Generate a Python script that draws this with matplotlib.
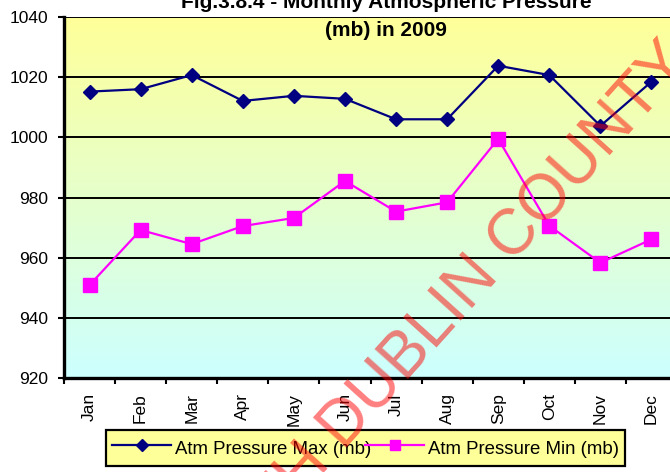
import matplotlib
matplotlib.use("Agg")
import matplotlib.pyplot as plt
import numpy as np
from matplotlib.colors import LinearSegmentedColormap

plt.rcParams['font.family'] = ['Liberation Sans', 'DejaVu Sans']

months = ['Jan', 'Feb', 'Mar', 'Apr', 'May', 'Jun',
          'Jul', 'Aug', 'Sep', 'Oct', 'Nov', 'Dec']
pressure_max = [1015.2, 1016.0, 1020.7, 1012.1, 1013.8, 1012.8,
                1006.0, 1006.0, 1023.8, 1020.7, 1003.8, 1018.5]
pressure_min = [950.9, 969.2, 964.5, 970.5, 973.2, 985.5,
                975.3, 978.4, 999.5, 970.6, 958.3, 966.1]
yticks = [920, 940, 960, 980, 1000, 1020, 1040]

fig = plt.figure(figsize=(6.7, 4.72), dpi=100)
ax = fig.add_axes([64 / 670, 94 / 472, 613 / 670, 361 / 472])

x = np.arange(len(months))
ax.set_xlim(-0.5, len(months) - 0.5)
ax.set_ylim(920, 1040)

# yellow-to-cyan background fill
grad = LinearSegmentedColormap.from_list('bg', ['#CCFFFF', '#FFFF99'])
ax.imshow(np.linspace(0, 1, 256).reshape(-1, 1), cmap=grad, origin='lower',
          extent=[-0.5, len(months) - 0.5, 920, 1040], aspect='auto', zorder=0)

for v in yticks[1:]:
    ax.axhline(v, color='black', lw=1.4, zorder=1)

ax.plot(x, pressure_max, color='#000080', lw=1.6, marker='D', ms=7.5,
        label='Atm Pressure Max (mb)', zorder=3)
ax.plot(x, pressure_min, color='#FF00FF', lw=1.6, marker='s', ms=10,
        label='Atm Pressure Min (mb)', zorder=3)

ax.set_yticks(yticks)
ax.set_yticklabels([str(v) for v in yticks], fontsize=12.5)
ax.set_xticks(x)
ax.set_xticklabels(months, rotation=90, fontsize=12.5)
ax.set_xticks(np.arange(-0.5, len(months)), minor=True)
ax.tick_params(axis='x', which='major', length=0, pad=11)
ax.tick_params(axis='x', which='minor', length=4.5, width=1.5, direction='out')
ax.tick_params(axis='y', length=4.5, width=1.5, direction='out', pad=7)

for side in ['top', 'right']:
    ax.spines[side].set_visible(False)
for side in ['left', 'bottom']:
    ax.spines[side].set_linewidth(2.4)

fig.text(386 / 670, 1 - 8 / 472, 'Fig.3.8.4 - Monthly Atmospheric Pressure',
         ha='center', va='baseline', fontsize=15, fontweight='bold')
fig.text(386 / 670, 1 - 36 / 472, '(mb) in 2009',
         ha='center', va='baseline', fontsize=15, fontweight='bold')

leg = fig.legend(loc='center', ncol=2, fontsize=13.4, handlelength=3.2,
                 handleheight=1.6, columnspacing=0.6, handletextpad=0.2,
                 borderpad=0.3, markerscale=0.75,
                 bbox_to_anchor=(97 / 670, 2 / 472, 537 / 670, 44 / 472),
                 mode='expand', fancybox=False, framealpha=1)
leg.get_frame().set_facecolor('#FFFF99')
leg.get_frame().set_edgecolor('black')
leg.get_frame().set_linewidth(1.6)

fig.text(425 / 670, 1 - 336 / 472, 'SOUTH DUBLIN COUNTY', rotation=48,
         rotation_mode='anchor', ha='center', va='center', fontsize=46,
         color='red', alpha=0.5, zorder=10)

fig.savefig('out.png', dpi=100)
